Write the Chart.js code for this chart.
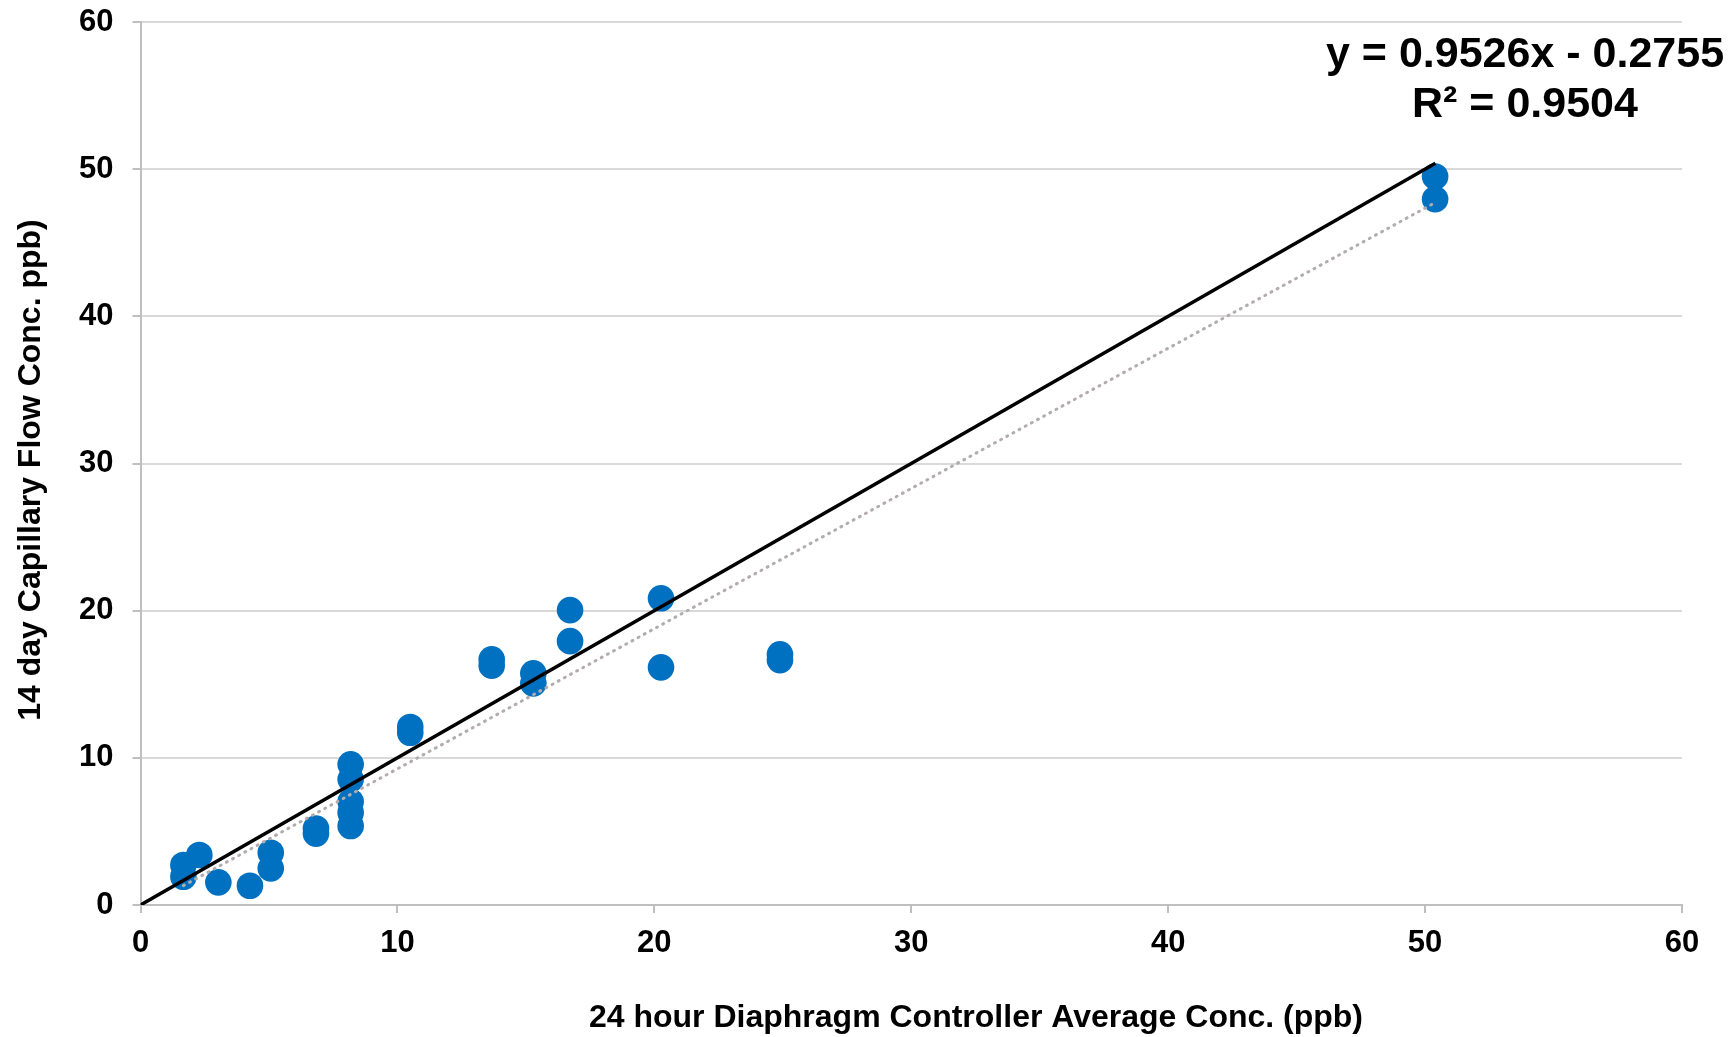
<!DOCTYPE html>
<html>
<head>
<meta charset="utf-8">
<script src="https://cdn.jsdelivr.net/npm/chart.js@4/dist/chart.umd.min.js"></script>
<style>
  html, body { margin: 0; padding: 0; background: #ffffff; }
  #wrap { width: 1735px; height: 1037px; }
</style>
</head>
<body>
<div id="wrap"><canvas id="chart" width="1735" height="1037"></canvas></div>
<script>
//measured values: 24 hour diaphragm controller (x) vs 14 day capillary flow (y)
const xValues = [1.67, 1.67, 2.29, 3.03, 4.26, 5.07, 5.07, 6.83, 6.83, 8.18, 8.18, 8.18, 8.18, 8.18,
  10.5, 10.5, 13.67, 13.67, 15.29, 15.29, 16.72, 16.72, 20.26, 20.26, 24.89, 24.89, 50.39, 50.39];
const yValues = [2.72, 1.92, 3.40, 1.54, 1.31, 3.55, 2.49, 5.2, 4.85, 9.56, 8.54, 7.02, 6.27, 5.37,
  12.1, 11.7, 16.69, 16.26, 15.74, 15.06, 20.04, 17.93, 20.84, 16.15, 17.03, 16.64, 49.5, 47.96];
//linear trendline as printed on the chart
const slope = 0.9526;
const intercept = -0.2755;
const rSquared = 0.9504;
//1:1 reference line end points
const oneToOneX = [0, 50.4];
//axis ticks
const tickValues = [0, 10, 20, 30, 40, 50, 60];
const xTitle = "24 hour Diaphragm Controller Average Conc. (ppb)";
const yTitle = "14 day Capillary Flow Conc. ppb)";

const points = xValues.map((x, i) => ({ x: x, y: yValues[i] }));
const xMin = Math.min(...xValues);
const xMax = Math.max(...xValues);
const trendPoints = [xMin, xMax].map(x => ({ x: x, y: slope * x + intercept }));
const oneToOne = oneToOneX.map(x => ({ x: x, y: x }));

const fontFamily = "'Liberation Sans', Arial, sans-serif";
const tickFont = { family: fontFamily, size: 31, weight: "bold" };

//draws the equation text and both axis titles (they sit off the axis centre)
const extraText = {
  id: "extraText",
  afterDraw(chart) {
    const ctx = chart.ctx;
    ctx.save();
    ctx.fillStyle = "#000000";
    ctx.textAlign = "center";
    ctx.textBaseline = "middle";
    ctx.font = "bold 43px " + fontFamily;
    const sign = intercept < 0 ? " - " : " + ";
    ctx.fillText("y = " + slope.toFixed(4) + "x" + sign + Math.abs(intercept).toFixed(4), 1525, 55);
    ctx.fillText("R\u00b2 = " + rSquared.toFixed(4), 1525, 105);
    ctx.font = "bold 32px " + fontFamily;
    ctx.fillText(xTitle, 976, 1018);
    ctx.translate(31, 470);
    ctx.rotate(-Math.PI / 2);
    ctx.fillText(yTitle, 0, 0);
    ctx.restore();
  }
};

new Chart(document.getElementById("chart"), {
  type: "scatter",
  plugins: [extraText],
  data: {
    datasets: [
      {
        label: "1:1",
        data: oneToOne,
        showLine: true,
        borderColor: "#000000",
        borderWidth: 3.5,
        pointRadius: 0,
        order: 1,
      },
      {
        label: "Trend",
        data: trendPoints,
        showLine: true,
        borderColor: "#b3acac",
        borderWidth: 3,
        borderDash: [1, 6],
        borderCapStyle: "round",
        pointRadius: 0,
        order: 2,
      },
      {
        label: "Conc.",
        data: points,
        backgroundColor: "#0070c0",
        borderColor: "#0070c0",
        borderWidth: 0,
        pointRadius: 13.3,
        order: 3,
      },
    ],
  },
  options: {
    responsive: false,
    animation: false,
    devicePixelRatio: 1,
    layout: { padding: { top: 22, right: 53, bottom: 0, left: 0 } },
    plugins: {
      legend: { display: false },
      tooltip: { enabled: false },
    },
    scales: {
      x: {
        type: "linear",
        min: 0,
        max: 60,
        afterFit: (scale) => {
          scale.height = 132;
          scale.paddingLeft = 0;
          scale.paddingRight = 0;
        },
        afterBuildTicks: (scale) => { scale.ticks = tickValues.map(v => ({ value: v })); },
        border: { color: "#bfbfbf", width: 2 },
        grid: { drawOnChartArea: false, drawTicks: true, tickLength: 8, tickColor: "#bfbfbf", lineWidth: 2 },
        ticks: { color: "#000000", font: tickFont, padding: 12 },
        title: { display: false },
      },
      y: {
        type: "linear",
        min: 0,
        max: 60,
        afterFit: (scale) => {
          scale.width = 140.5;
          scale.paddingTop = 0;
          scale.paddingBottom = 0;
        },
        afterBuildTicks: (scale) => { scale.ticks = tickValues.map(v => ({ value: v })); },
        border: { color: "#bfbfbf", width: 2 },
        grid: { color: "#d9d9d9", lineWidth: 2, drawTicks: true, tickLength: 8, tickColor: "#bfbfbf" },
        ticks: { color: "#000000", font: tickFont, padding: 19 },
        title: { display: false },
      },
    },
  },
});
</script>
</body>
</html>
